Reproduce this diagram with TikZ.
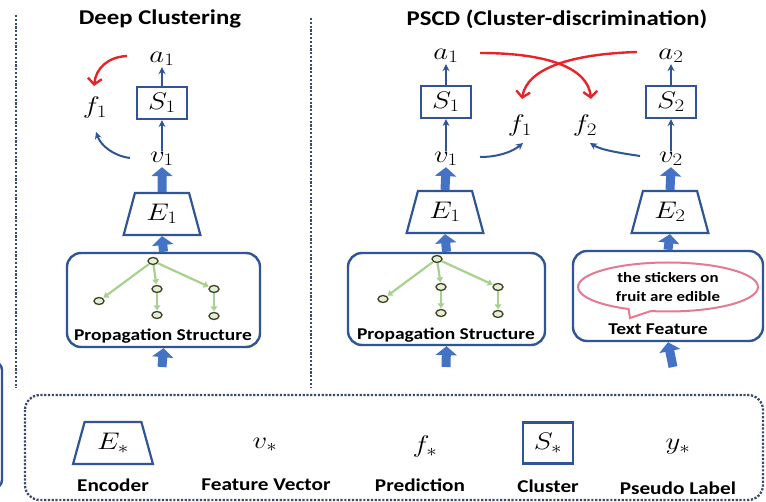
\RequirePackage{fix-cm}
\documentclass[tikz,border=0pt]{standalone}
\usepackage{fontspec}
\setmainfont{Carlito}[FakeStretch=1.18]
\DeclareMathSizes{24}{24}{17.5}{13}
\usetikzlibrary{arrows.meta,shapes.geometric,shapes.callouts,calc}
\definecolor{dblue}{HTML}{2F5597}
\definecolor{mblue}{HTML}{4472C4}
\definecolor{dotc}{HTML}{3A4B6E}
\definecolor{redc}{HTML}{E8232A}
\definecolor{pinkc}{HTML}{E5798F}
\definecolor{treeg}{HTML}{A9D18E}
\definecolor{treen}{HTML}{3F3F1F}
\definecolor{treef}{HTML}{E2EFDA}
\newcommand{\mth}[1]{\scalebox{1.2}[1]{$#1$}}
\tikzset{
  ttl/.style={font=\fontsize{21}{23}\selectfont\bfseries, inner sep=0pt},
  lbl/.style={font=\fontsize{16.5}{18}\selectfont\bfseries, inner sep=0pt},
  leglbl/.style={font=\fontsize{18}{20}\selectfont\bfseries, inner sep=0pt},
  bubtxt/.style={font=\fontsize{14.3}{19}\selectfont\bfseries},
  mlab/.style={font=\fontsize{24}{26}\selectfont, inner sep=1pt},
  sbox/.style={draw=dblue, line width=2.2pt, minimum width=50pt, minimum height=32pt, inner sep=0pt, font=\fontsize{24}{26}\selectfont},
  enc/.style={trapezium, trapezium left angle=72, trapezium right angle=72, trapezium stretches=true, draw=dblue, line width=2.2pt, minimum width=77pt, minimum height=42pt, inner sep=0pt, font=\fontsize{24}{26}\selectfont},
  inbox/.style={draw=dblue, line width=2.4pt, rounded corners=14pt, inner sep=0pt},
  thinarr/.style={draw=dblue, line width=2pt, -{Stealth[length=7pt,width=7pt]}},
  fatarr/.style={draw=mblue, line width=9pt, -{Triangle[length=9pt,width=21pt]}},
  redarr/.style={draw=redc, line width=2.4pt, -{Straight Barb[length=6pt,width=14pt]}},
  dotl/.style={draw=dotc, line width=2.3pt, dash pattern=on 2.2pt off 1.6pt},
  tnode/.style={ellipse, draw=treen, fill=treef, line width=1.3pt, minimum width=10pt, minimum height=7pt, inner sep=0pt},
  tedge/.style={draw=treeg, line width=2.2pt, -{Triangle[length=5pt,width=6.5pt]}, shorten >=0.5pt},
  proptree/.pic={
    \node[tnode] (-r) at (0,0) {};
    \node[tnode] (-a) at (-54,40) {};
    \node[tnode] (-b) at (4,28) {};
    \node[tnode] (-c) at (61,28) {};
    \node[tnode] (-d) at (4,54) {};
    \node[tnode] (-e) at (61,55) {};
    \draw[tedge] (-r) -- (-a);
    \draw[tedge] (-r) -- (-b);
    \draw[tedge] (-r) -- (-c);
    \draw[tedge] (-b) -- (-d);
    \draw[tedge] (-c) -- (-e);
  }
}
\begin{document}
\begin{tikzpicture}[x=1pt,y=-1pt]
\useasboundingbox (0,0) rectangle (766,502);
\clip (0,0) rectangle (766,502);
\fill[white] (0,0) rectangle (766,502);

% dotted separators
\draw[dotl] (16,15) -- (16,388);
\draw[dotl] (311,18) -- (311,388);
\draw[dotl, rounded corners=15pt] (25,395) rectangle (763,500);
% partial box on the left edge
\draw[dblue, line width=2.4pt, rounded corners=8pt] (-20,362) -- (2,362) -- (2,488) -- (-20,488);

% titles
\node[ttl] (t1) at (160,19) {Deep Clustering};
\node[ttl] (t2) at (557,19) {PSCD (Cluster-discrimination)};

% ---------- Deep clustering ----------
\node[mlab] (a1L) at (162,59) {\mth{a_1}};
\node[sbox] (s1L) at (162,103) {\mth{S_1}};
\node[mlab] (v1L) at (162,159) {\mth{v_1}};
\node[mlab] (f1L) at (95,108) {\mth{f_1}};
\node[enc] (e1L) at (162,214) {\mth{E_1}};
\node[inbox, minimum width=193pt, minimum height=94pt] (p1) at (163.5,300) {};
\node[lbl] (p1t) at (163,336) {Propagation Structure};
\pic (tr1) at (153,261) {proptree};
\coordinate (in1) at (162,367);

\draw[thinarr] (s1L.north) -- (a1L.south);
\draw[thinarr] (v1L.north) -- (s1L.south);
\draw[fatarr] (e1L.north) -- (v1L.south);
\draw[fatarr] (p1.north) -- (e1L.south);
\draw[fatarr] (in1) -- (p1.south);
\coordinate (rL1) at (127,56);
\coordinate (rL2) at (94,86);
\draw[redarr] (rL1) .. controls (108,57) and (96,68) .. (rL2);
\coordinate (bL1) at (130,158);
\coordinate (bL2) at (96,132);
\draw[thinarr] (bL1) .. controls (114,156) and (101,146) .. (bL2);

% ---------- PSCD ----------
\node[mlab] (a1R) at (446,56) {\mth{a_1}};
\node[sbox] (s1R) at (446,102) {\mth{S_1}};
\node[mlab] (v1R) at (446,159) {\mth{v_1}};
\node[enc] (e1R) at (445,212) {\mth{E_1}};
\node[inbox, minimum width=197pt, minimum height=92pt] (p2) at (446.5,299) {};
\node[lbl] (p2t) at (446,335) {Propagation Structure};
\pic (tr2) at (437,259) {proptree};
\coordinate (in2) at (446,367);

\node[mlab] (a2R) at (671,56) {\mth{a_2}};
\node[sbox] (s2R) at (671,102) {\mth{S_2}};
\node[mlab] (v2R) at (671,159) {\mth{v_2}};
\node[enc] (e2R) at (670,212) {\mth{E_2}};
\node[inbox, minimum width=190pt, minimum height=90pt] (tf) at (668,296) {};
\node[ellipse callout, draw=pinkc, line width=2pt, minimum width=180pt, minimum height=49pt, inner sep=0pt, callout absolute pointer={(630,318)}, bubtxt, align=center] (bub) at (668,287) {the stickers on\\fruit are edible};
\node[lbl] (tft) at (658,329) {Text Feature};
\coordinate (in3) at (673,367);

\node[mlab] (f1R) at (520,126) {\mth{f_1}};
\node[mlab] (f2R) at (585,126) {\mth{f_2}};

\draw[thinarr] (s1R.north) -- (a1R.south);
\draw[thinarr] (v1R.north) -- (s1R.south);
\draw[fatarr] (e1R.north) -- (v1R.south);
\draw[fatarr] (p2.north) -- (e1R.south);
\draw[fatarr] (in2) -- (p2.south);

\draw[thinarr] (s2R.north) -- (a2R.south);
\draw[thinarr] (v2R.north) -- (s2R.south);
\draw[fatarr] (e2R.north) -- (v2R.south);
\draw[fatarr] (tf.north) -- (e2R.south);
\draw[fatarr] (in3) -- (tf.south);

\coordinate (bR1) at (480,157);
\coordinate (bR2) at (523,143);
\draw[thinarr] (bR1) .. controls (498,157) and (512,152) .. (bR2);
\coordinate (bR3) at (640,156);
\coordinate (bR4) at (590,143);
\draw[thinarr] (bR3) .. controls (620,153) and (601,150) .. (bR4);

\coordinate (rR1) at (480,53);
\coordinate (rR2) at (591,99);
\draw[redarr] (rR1) .. controls (548,53) and (588,68) .. (rR2);
\coordinate (rR3) at (637,52);
\coordinate (rR4) at (522,99);
\draw[redarr] (rR3) .. controls (572,54) and (527,68) .. (rR4);

% ---------- legend ----------
\node[enc, minimum width=80pt] (eL) at (113,443) {\mth{E_*}};
\node[leglbl] (eLt) at (113,485) {Encoder};
\node[mlab] (vL) at (265,445) {\mth{v_*}};
\node[leglbl] (vLt) at (266,485) {Feature Vector};
\node[mlab] (fL) at (425,447) {\mth{f_*}};
\node[leglbl] (fLt) at (420,485) {Prediction};
\node[sbox, minimum height=41pt] (sL) at (548,443) {\mth{S_*}};
\node[leglbl] (sLt) at (548,486) {Cluster};
\node[mlab] (yL) at (678,447) {\mth{y_*}};
\node[leglbl] (yLt) at (678,488) {Pseudo Label};
\end{tikzpicture}
\end{document}
